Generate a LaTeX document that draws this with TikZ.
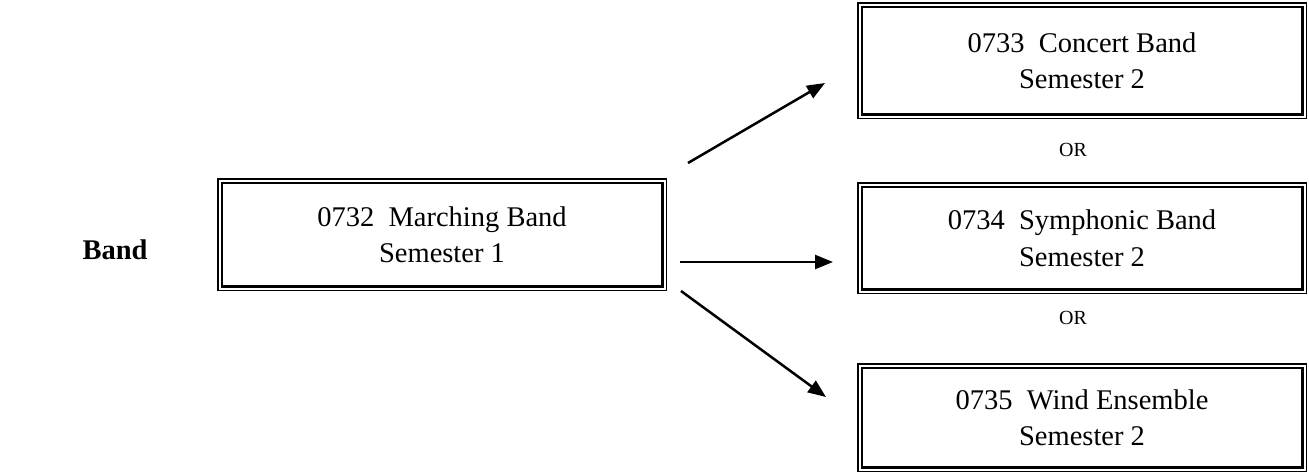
\documentclass[tikz,border=0pt]{standalone}
\usepackage{fontspec}
\setmainfont{Liberation Serif}
\usetikzlibrary{arrows.meta}
\begin{document}
\begin{tikzpicture}[x=1pt,y=-1pt,
  box/.style={draw, line width=2.5pt, inner sep=0pt, outer sep=0pt,
    minimum width=440.5pt, align=center,
    font=\fontsize{28.5}{36.5}\selectfont},
  frame/.style={draw, line width=1.5pt},
  lbl/.style={inner sep=0pt, font=\fontsize{20}{24}\selectfont},
  conn/.style={line width=2.5pt, -{Triangle[length=18pt,width=14pt]}}]
\useasboundingbox (0,0) rectangle (1309,474);
\node[box, minimum height=103.5pt] (A) at (442,234.5) {0732~~Marching Band\\Semester 1};
\node[box, minimum height=107.5pt] (T) at (1082,60.5) {0733~~Concert Band\\Semester 2};
\node[box, minimum height=102.5pt] (M) at (1082,238) {0734~~Symphonic Band\\Semester 2};
\node[box, minimum height=99.5pt] (B) at (1082,417.5) {0735~~Wind Ensemble\\Semester 2};
\foreach \n in {A,T,M,B}
  \draw[frame] ([shift={(-4pt,4pt)}]\n.north west) rectangle ([shift={(4pt,-4pt)}]\n.south east);
\node[inner sep=0pt, font=\fontsize{28.5}{34}\selectfont\bfseries] (title) at (115,250) {Band};
\node[lbl] (or1) at (1073,150) {OR};
\node[lbl] (or2) at (1073,318) {OR};
\coordinate (s1) at (688,163); \coordinate (e1) at (825,83);
\coordinate (s2) at (680,262); \coordinate (e2) at (833,262);
\coordinate (s3) at (681,291); \coordinate (e3) at (826,397);
\draw[conn] (s1) -- (e1);
\draw[conn] (s2) -- (e2);
\draw[conn] (s3) -- (e3);
\end{tikzpicture}
\end{document}
